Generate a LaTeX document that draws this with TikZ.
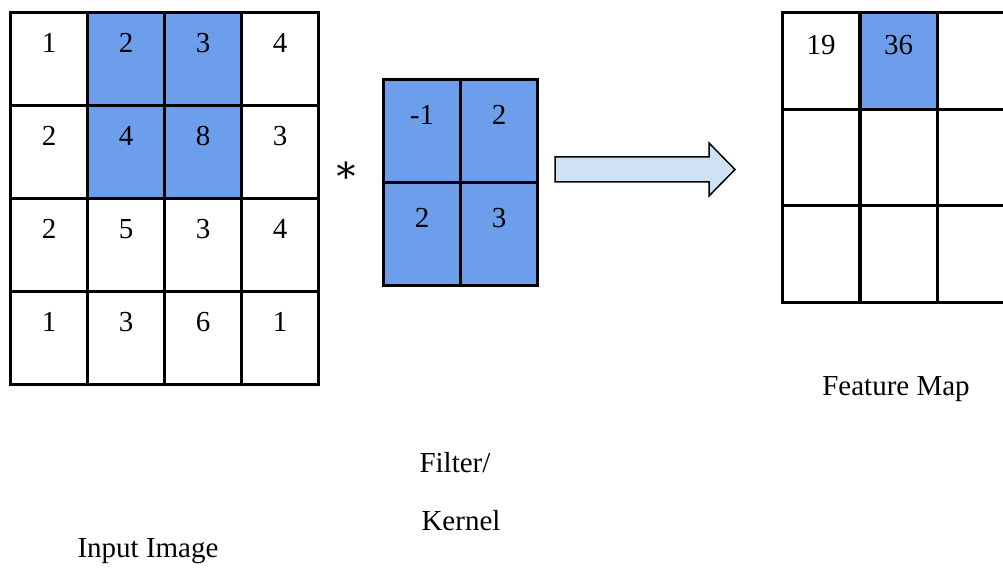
\documentclass[tikz,border=0pt]{standalone}
\usepackage{fontspec}
\setmainfont{Liberation Serif}
\newfontfamily\symfont{DejaVu Serif}
\definecolor{cellblue}{RGB}{109,158,235}
\definecolor{arrowblue}{RGB}{207,226,243}
\tikzset{
  cellbox/.style={draw=black, line width=3pt, inner sep=0pt, anchor=north west},
  num/.style={inner sep=0pt, font=\fontsize{29}{34}\selectfont},
  lbl/.style={inner sep=0pt, font=\fontsize{29}{34}\selectfont},
}
\begin{document}
\begin{tikzpicture}[x=1pt,y=-1pt]
\clip (0,0) rectangle (1003,569);
\fill[white] (0,0) rectangle (1003,569);
% input image 4x4
\foreach \r/\row in {0/{1,2,3,4},1/{2,4,8,3},2/{2,5,3,4},3/{1,3,6,1}} {
  \foreach \v [count=\c from 0] in \row {
    \pgfmathsetmacro{\isblue}{(\r<2 && (\c==1 || \c==2)) ? 1 : 0}
    \ifdim\isblue pt>0.5pt
      \node[cellbox, fill=cellblue, minimum width=77pt, minimum height=93pt] (in-\r-\c) at ({9+77*\c},{11+93*\r}) {};
    \else
      \node[cellbox, fill=white, minimum width=77pt, minimum height=93pt] (in-\r-\c) at ({9+77*\c},{11+93*\r}) {};
    \fi
    \node[num] (inv-\r-\c) at ([yshift=-32pt]in-\r-\c.north) {\v};
  }
}
% asterisk
\node[inner sep=0pt, font=\symfont\fontsize{38}{38}\selectfont] (ast) at (346,172) {∗};
% kernel 2x2
\foreach \r/\row in {0/{-1,2},1/{2,3}} {
  \foreach \v [count=\c from 0] in \row {
    \node[cellbox, fill=cellblue, minimum width=77pt, minimum height=103pt] (k-\r-\c) at ({382+77*\c},{78+103*\r}) {};
    \node[num] (kv-\r-\c) at ([yshift=-37pt]k-\r-\c.north) {\v};
  }
}
% arrow
\draw[line width=1.5pt, fill=arrowblue, line join=miter]
  (555,157) -- (709,157) -- (709,143) -- (735,169.5) -- (709,196) -- (709,182) -- (555,182) -- cycle;
% feature map 3x3
\foreach \r in {0,1,2} {
  \foreach \c in {0,1,2} {
    \node[cellbox, fill=white, minimum width=77pt, minimum height=96.7pt] (f-\r-\c) at ({781+77.5*\c},{11+96.7*\r}) {};
  }
}
\node[cellbox, fill=cellblue, minimum width=77pt, minimum height=96.7pt] (f-0-1b) at (858.5,11) {};
\node[num] (fv-0-0) at ([yshift=-34pt]f-0-0.north) {19};
\node[num] (fv-0-1) at ([yshift=-34pt]f-0-1b.north) {36};
% labels
\node[lbl] (lfm) at (896,389) {Feature Map};
\node[lbl] (lfilt) at (455,463) {Filter/};
\node[lbl] (lkern) at (461,521) {Kernel};
\node[lbl] (linp) at (148,551) {Input Image};
\end{tikzpicture}
\end{document}
